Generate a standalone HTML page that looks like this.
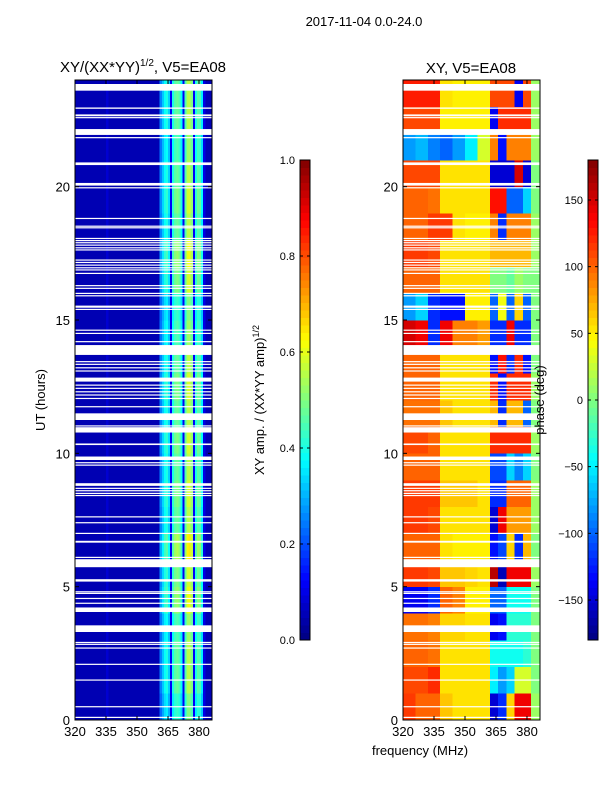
<!DOCTYPE html>
<html><head><meta charset="utf-8"><style>
body{margin:0;background:#fff;}
svg{display:block;font-family:"Liberation Sans","DejaVu Sans",sans-serif;}
</style></head><body>
<svg id="fig" width="600" height="800" xmlns="http://www.w3.org/2000/svg">
<text x="364" y="26" font-size="13" text-anchor="middle">2017-11-04 0.0-24.0</text>
<text x="143" y="72" font-size="15" text-anchor="middle">XY/(XX*YY)<tspan font-size="10" dy="-6">1/2</tspan><tspan dy="6">, V5=EA08</tspan></text>
<text x="471" y="73" font-size="15" text-anchor="middle">XY, V5=EA08</text>
<text transform="translate(45,400) rotate(-90)" font-size="13" text-anchor="middle">UT (hours)</text>
<text x="420" y="755" font-size="13" text-anchor="middle">frequency (MHz)</text>
<text transform="translate(264,400) rotate(-90)" font-size="13" text-anchor="middle">XY amp. / (XX*YY amp)<tspan font-size="9" dy="-5">1/2</tspan></text>
<g id="ampPanel"></g>
<g id="phPanel"></g>
<g id="cb1"></g>
<g id="cb2"></g>
<text transform="translate(544,400) rotate(-90)" font-size="13" text-anchor="middle">phase (deg)</text>
</svg>
<script>
// ---- data ----
const freqTicks = [320,335,350,365,380];
const utTicks = [0,5,10,15,20];
const ampTicks = [0.0,0.2,0.4,0.6,0.8,1.0];
const phaseTicks = [-150,-100,-50,0,50,100,150];
// amplitude channel profile, 1 MHz channels from 320 to 385
const ampChannels = [0.05,0.05,0.05,0.05,0.05,0.05,0.05,0.05,0.05,0.05,0.05,0.05,0.05,0.05,0.05,0.08,0.05,0.05,0.05,0.05,
 0.05,0.05,0.05,0.05,0.05,0.05,0.05,0.05,0.05,0.05,0.05,0.05,0.05,0.05,0.05,0.05,0.05,0.05,0.05,0.05,0.05,
 0.25,0.32,0.38,0.4,0.33,0.12,0.4,0.46,0.48,0.45,0.38,0.12,0.45,0.55,0.56,0.5,0.12,0.4,0.46,0.45,0.36,0.1,0.05,0.05,0.05];
// hourly brightness factor for the amplitude band (UT 0..23)
const ampHourFactor = [0.9,1.0,1.0,0.95,1.1,1.05,1.15,1.0,1.05,1.0,1.05,1.0,1.05,1.0,0.95,0.9,1.05,1.1,1.0,1.05,1.0,0.95,1.0,1.0];
// phase grid: frequency edges and hourly rows (UT 0..23)
const phaseFreqEdges = [320,326,332,338,344,350,356,362,366,370,374,378,382,386];
const phaseRows = [
[115,100,100,65,55,55,55,-150,-120,60,140,140,10],
[110,110,120,55,55,55,55,-50,-80,-60,30,30,0],
[100,100,95,55,55,55,55,-40,-40,-40,-40,-30,0],
[95,95,90,60,60,55,55,-140,-130,-30,-30,-30,0],
[-140,-140,-120,100,90,50,50,-100,-100,-40,-40,-40,0],
[115,115,110,65,65,60,55,160,-160,140,140,140,10],
[100,100,100,55,50,50,50,-130,-110,60,-120,70,0],
[115,115,110,55,55,55,55,-150,140,80,80,80,10],
[115,115,115,65,65,65,55,-120,-120,100,100,100,10],
[100,100,100,55,55,55,55,-110,-110,-60,-90,-60,0],
[110,110,100,55,55,55,55,120,120,120,120,120,10],
[95,95,95,65,55,55,55,70,-120,70,70,-100,0],
[100,100,100,55,55,55,55,120,-130,120,120,120,10],
[100,100,100,55,55,55,55,-130,130,-120,120,-130,0],
[150,140,-120,140,90,90,80,-120,-120,140,-120,-120,0],
[-80,-60,-120,-130,-130,50,50,-100,40,-100,60,-100,0],
[100,100,100,55,55,55,55,0,0,-10,10,0,0],
[115,115,110,55,55,55,55,70,70,70,70,70,10],
[100,100,115,115,55,50,50,90,-120,90,90,90,10],
[100,100,95,55,55,55,55,130,130,-100,-100,-60,0],
[110,110,110,55,55,55,55,-150,-150,-150,150,-150,0],
[-80,-70,-90,-100,-80,-50,30,90,-130,90,90,90,10],
[110,110,110,50,50,50,50,-140,120,120,120,120,10],
[125,125,125,55,50,50,50,110,110,110,-140,110,10]];
// flagged (blank) UT intervals, hours
const gaps = [[23.6,23.85],[22.92,22.97],[22.64,22.71],[22.57,22.61],[21.94,22.16],[21.82,21.86],[20.81,20.91],[20.04,20.14],[19.94,19.98],
[18.79,18.83],[18.5,18.54],[18.44,18.48],[18.04,18.08],[17.96,18.0],[17.88,17.92],[17.79,17.83],[17.69,17.73],[17.61,17.65],
[17.23,17.27],[17.14,17.18],[17.04,17.08],[16.94,16.98],[16.86,16.9],[16.73,16.77],[16.27,16.31],[16.17,16.21],[15.98,16.02],[15.89,15.93],
[15.46,15.54],[15.38,15.42],[14.6,14.64],[14.48,14.52],[14.17,14.21],[13.69,14.06],[13.42,13.46],[13.32,13.36],[13.19,13.23],[13.07,13.11],
[12.69,12.84],[12.54,12.58],[12.42,12.46],[12.29,12.33],[12.17,12.21],[12.04,12.08],[11.73,11.77],[11.25,11.5],[11.01,11.05],[10.78,10.98],
[10.31,10.37],[9.75,9.88],[9.63,9.67],[9.54,9.58],[8.78,8.88],[8.67,8.71],[8.58,8.62],[8.48,8.52],[8.4,8.44],[7.6,7.64],[7.38,7.42],[6.98,7.02],
[6.65,6.72],[6.08,6.12],[5.73,6.03],[5.19,5.28],[4.79,4.83],[4.73,4.77],[4.54,4.58],[4.36,4.4],[4.05,4.22],[3.3,3.55],[2.89,2.93],[2.82,2.86],
[2.68,2.72],[2.07,2.11],[1.48,1.52],[0.48,0.52],[0.08,0.12]];

// ---- helpers ----
const NS = "http://www.w3.org/2000/svg";
function jet(v){v=Math.max(0,Math.min(1,v));
 const r=Math.max(0,Math.min(1,1.5-Math.abs(4*v-3))),g=Math.max(0,Math.min(1,1.5-Math.abs(4*v-2))),b=Math.max(0,Math.min(1,1.5-Math.abs(4*v-1)));
 return `rgb(${Math.round(r*255)},${Math.round(g*255)},${Math.round(b*255)})`;}
function mk(parent,tag,attrs){const e=document.createElementNS(NS,tag);for(const k in attrs)e.setAttribute(k,attrs[k]);parent.appendChild(e);return e;}
const Y0=80,Y1=720,FMIN=320,FMAX=386.3;
function yScale(h){return Y1-(h/24)*(Y1-Y0);}
function xScaleFor(x0,x1){return f=>x0+(f-FMIN)/(FMAX-FMIN)*(x1-x0);}

function axes(g,x0,x1,xs){
 mk(g,'rect',{x:x0,y:Y0,width:x1-x0,height:Y1-Y0,fill:'none',stroke:'#000','stroke-width':1});
 freqTicks.forEach(t=>{const x=xs(t);
  const a=mk(g,'line',{x1:x,x2:x,y1:Y1,y2:Y1-4,stroke:'#000'});
  
  
  mk(g,'line',{x1:x,x2:x,y1:Y0,y2:Y0+4,stroke:'#000'});
  const tx=mk(g,'text',{x:x,y:Y1+16,'font-size':13,'text-anchor':'middle'});tx.textContent=t;
  
  });
 utTicks.forEach(t=>{const y=yScale(t);
  mk(g,'line',{x1:x0,x2:x0+4,y1:y,y2:y,stroke:'#000'});
  mk(g,'line',{x1:x1,x2:x1-4,y1:y,y2:y,stroke:'#000'});
  const tx=mk(g,'text',{x:x0-5,y:y+5,'font-size':13,'text-anchor':'end'});tx.textContent=t;
  
  });
}
function drawGaps(g,x0,x1){gaps.forEach(gp=>{const r=mk(g,'rect',{x:x0,y:yScale(gp[1]),width:x1-x0,height:Math.max(1.2,yScale(gp[0])-yScale(gp[1])),fill:'#fff'});
 
 });}

// amplitude panel
(function(){const g=document.getElementById('ampPanel');const x0=75,x1=212,xs=xScaleFor(x0,x1);
 mk(g,'rect',{x:x0,y:Y0,width:x1-x0,height:Y1-Y0,fill:jet(0.05)});
 for(let h=0;h<24;h++){ampChannels.forEach((v,c)=>{if(v<=0.06)return;
  const val=v>0.15?v*ampHourFactor[h]:v;
  const r=mk(g,'rect',{x:xs(FMIN+c),y:yScale(h+1),width:xs(FMIN+c+1)-xs(FMIN+c)+0.3,height:yScale(h)-yScale(h+1)+0.3,fill:jet(val),'shape-rendering':'crispEdges'});
  
  });}
 drawGaps(g,x0,x1);axes(g,x0,x1,xs);})();

// phase panel
(function(){const g=document.getElementById('phPanel');const x0=403,x1=540,xs=xScaleFor(x0,x1);
 phaseRows.forEach((row,h)=>{row.forEach((v,c)=>{
  const xa=xs(phaseFreqEdges[c]),xb=xs(phaseFreqEdges[c+1]);
  const r=mk(g,'rect',{x:xa,y:yScale(h+1),width:xb-xa+0.3,height:yScale(h)-yScale(h+1)+0.3,fill:jet((v+180)/360),'shape-rendering':'crispEdges'});
  
  });});
 drawGaps(g,x0,x1);axes(g,x0,x1,xs);})();

// colorbars
function colorbar(id,x,vmin,vmax,ticks,fmt){const g=document.getElementById(id);const top=160,bot=640,w=10;
 const N=64;for(let i=0;i<N;i++){const y=bot-(i+1)*(bot-top)/N;
  mk(g,'rect',{x:x,y:y,width:w,height:(bot-top)/N+0.5,fill:jet((i+0.5)/N),'shape-rendering':'crispEdges'});}
 mk(g,'rect',{x:x,y:top,width:w,height:bot-top,fill:'none',stroke:'#000'});
 ticks.forEach(t=>{const y=bot-(t-vmin)/(vmax-vmin)*(bot-top);
  mk(g,'line',{x1:x,x2:x+3,y1:y,y2:y,stroke:'#000'});mk(g,'line',{x1:x+w,x2:x+w-3,y1:y,y2:y,stroke:'#000'});
  const tx=mk(g,'text',{x:x-5,y:y+4,'font-size':11,'text-anchor':'end'});tx.textContent=fmt(t);
  
  });}
colorbar('cb1',300,0,1,ampTicks,t=>t.toFixed(1));
colorbar('cb2',588,-180,180,phaseTicks,t=>t<0?'\u2212'+(-t):String(t));
</script>
</body></html>
